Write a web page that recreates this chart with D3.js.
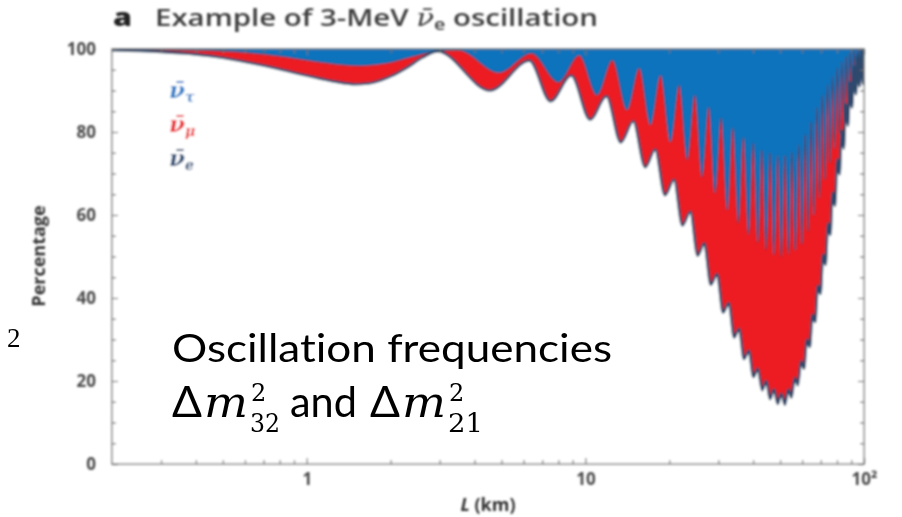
<!DOCTYPE html>
<html><head><meta charset="utf-8">
<script src="https://cdn.jsdelivr.net/npm/d3@7"></script>
<style>
  body { margin: 0; background: #fff; }
  svg { display: block; }
  text { font-variant-ligatures: none; }
</style>
</head><body>
<svg id="chart" width="902" height="517"></svg>
<script>
// ν̄e survival share (%), the lower edge of the stack, at distance L (km)
const eDistance = [0.2,0.3,0.4,0.5,0.7,1.0,1.25,1.5,1.75,2.0,2.3,2.6,2.95,4.55,6.3,7.5,8.9,10.4,11.9,13.4,14.85,16.4,17.8,19.3,20.8,22.3,23.8,25.3,26.7,28.2,29.7,31.2,32.7,34.2,35.6,37.1,38.6,40.1,41.6,43.1,44.6,46.0,47.5,49.0,50.5,52.0,53.5,54.9,56.4,57.9,59.4,60.9,62.4,63.9,65.3,66.8,68.3,69.8,71.3,72.8,74.3,75.7,77.2,78.7,80.2,81.7,83.2,84.6,86.1,87.6,89.1,90.6,92.1,93.6,95.0,96.5,98.0,99.5,100];
const eShare = [99.7,99.3,98.7,97.9,96.0,93.6,92.2,91.5,92.0,93.4,95.6,97.9,99.4,90.0,97.2,87.4,93.6,83.0,88.6,77.5,82.6,71.5,75.8,64.8,68.5,57.5,60.8,50.2,53.2,43.2,45.8,36.5,38.8,30.5,32.6,25.3,27.3,21.0,23.0,17.8,20.0,15.6,18.0,14.5,17.0,14.3,18.0,16.0,20.8,19.0,24.8,23.0,30.0,28.2,36.0,34.2,43.0,41.0,50.5,48.0,58.0,55.2,65.5,62.2,73.5,69.8,80.5,76.0,86.7,81.5,92.0,85.9,95.9,89.1,98.6,91.0,99.9,91.5,92.5];

// ν̄e + ν̄μ share (%), the edge between the red and the blue band
const emDistance = [0.2,0.5,0.8,1.1,1.5,1.9,2.4,3.0,3.5,4.9,6.4,8.0,9.5,11.0,12.5,14.1,15.6,17.1,18.6,20.2,21.7,23.2,24.7,26.2,27.7,29.2,30.7,32.3,33.8,35.4,36.9,38.5,40.0,41.6,43.0,44.5,46.0,47.5,49.0,50.5,52.0,53.6,55.1,56.7,58.3,59.9,61.4,63.0,64.5,66.1,67.7,69.3,70.8,72.4,73.9,75.5,77.0,78.6,80.1,81.7,83.2,84.7,86.2,87.6,89.1,90.6,92.1,93.6,95.0,96.5,98.0,99.5,100];
const emShare = [99.95,99.5,98.3,96.9,96.0,96.5,98.2,99.6,99.7,94.3,99.0,92.0,98.5,88.9,97.3,85.3,95.4,81.7,93.7,77.6,91.3,73.3,88.9,69.2,86.0,65.3,83.4,61.2,81.0,58.0,78.8,55.2,77.3,53.3,75.7,51.6,75.0,50.4,74.5,49.9,74.5,50.5,75.2,51.5,77.0,53.0,79.5,56.0,82.5,60.0,86.0,64.0,89.0,68.5,91.5,72.5,93.5,76.0,95.5,79.5,97.0,82.5,98.3,86.0,99.2,89.8,99.7,93.0,99.9,95.2,100,95.8,96.3];

const xMajorTicks = [1, 10, 100];
const xTickLabels = ["1", "10", "10²"];
const xMinorTicks = [0.3,0.4,0.5,0.6,0.7,0.8,0.9,2,3,4,5,6,7,8,9,20,30,40,50,60,70,80,90];
const yMajorTicks = [0, 20, 40, 60, 80, 100];
const yMinorTicks = [5,10,15,25,30,35,45,50,55,65,70,75,85,90,95];
const legendSymbols = ["τ", "μ", "e"];

const COLORS = { tau: "#0b73bd", mu: "#ec1c24", edge: "#2e4a6d", text: "#3c3c3c" };
const legendColors = ["#2c80c8", "#ea2a30", "#2f4f78"];

const svg = d3.select("#chart");
const plot = { left: 112, right: 864, top: 49, bottom: 464 };

const x = d3.scaleLog().domain([0.2, 100]).range([plot.left, plot.right]);
const y = d3.scaleLinear().domain([0, 100]).range([plot.bottom, plot.top]);

const defs = svg.append("defs");
defs.append("clipPath").attr("id", "plotClip")
  .append("rect")
  .attr("x", plot.left).attr("y", plot.top)
  .attr("width", plot.right - plot.left).attr("height", plot.bottom - plot.top);
defs.append("filter").attr("id", "soft").attr("x", "-5%").attr("y", "-5%").attr("width", "110%").attr("height", "110%")
  .append("feGaussianBlur").attr("stdDeviation", 0.95);

const chart = svg.append("g").attr("filter", "url(#soft)");

const eData = d3.zip(eDistance, eShare);
const emData = d3.zip(emDistance, emShare);

const bands = chart.append("g").attr("clip-path", "url(#plotClip)");

// ν̄τ band: everything above the red band
bands.append("path")
  .datum([[0.2, 100], [100, 100]])
  .attr("fill", COLORS.tau)
  .attr("d", d3.area().x(d => x(d[0])).y0(y(0)).y1(d => y(d[1])));

const areaFrom = d3.area()
  .x(d => x(d[0])).y0(y(0)).y1(d => y(d[1]))
  .curve(d3.curveMonotoneX);
const lineFrom = d3.line()
  .x(d => x(d[0])).y(d => y(d[1]))
  .curve(d3.curveMonotoneX);

// ν̄μ band, then the ν̄e region painted white on top
bands.append("path").datum(emData).attr("fill", COLORS.mu).attr("d", areaFrom);
bands.append("path").datum(eData).attr("fill", "#ffffff").attr("d", areaFrom);

bands.append("path").datum(emData)
  .attr("fill", "none").attr("stroke", COLORS.edge).attr("stroke-width", 1.2)
  .attr("stroke-opacity", 0.8).attr("d", lineFrom);
bands.append("path").datum(eData)
  .attr("fill", "none").attr("stroke", COLORS.edge).attr("stroke-width", 2.6)
  .attr("d", lineFrom);

// frame and inward ticks on all four sides
const axisColor = "#6f6f6f";
chart.append("rect")
  .attr("x", plot.left).attr("y", plot.top)
  .attr("width", plot.right - plot.left).attr("height", plot.bottom - plot.top)
  .attr("fill", "none").attr("stroke", axisColor).attr("stroke-width", 1.3);

function tickAxis(axis, values, size, transform) {
  const g = chart.append("g").attr("transform", transform)
    .call(axis.tickValues(values).tickSize(-size).tickFormat(""));
  g.select(".domain").remove();
  g.selectAll(".tick line").attr("stroke", axisColor).attr("stroke-width", 1.2);
}
tickAxis(d3.axisBottom(x), xMajorTicks, 6, `translate(0,${plot.bottom})`);
tickAxis(d3.axisBottom(x), xMinorTicks, 4, `translate(0,${plot.bottom})`);
tickAxis(d3.axisTop(x), xMajorTicks, 6, `translate(0,${plot.top})`);
tickAxis(d3.axisTop(x), xMinorTicks, 4, `translate(0,${plot.top})`);
tickAxis(d3.axisLeft(y), yMajorTicks, 6, `translate(${plot.left},0)`);
tickAxis(d3.axisLeft(y), yMinorTicks, 4, `translate(${plot.left},0)`);
tickAxis(d3.axisRight(y), yMajorTicks, 6, `translate(${plot.right},0)`);
tickAxis(d3.axisRight(y), yMinorTicks, 4, `translate(${plot.right},0)`);

// tick labels
const labelFont = "'Open Sans', sans-serif";
const yLabels = chart.append("g").attr("transform", `translate(${plot.left},0)`)
  .call(d3.axisLeft(y).tickValues(yMajorTicks).tickSize(0).tickPadding(16));
yLabels.select(".domain").remove();
yLabels.selectAll("text")
  .attr("font-family", labelFont).attr("font-weight", 700).attr("font-size", 17)
  .attr("fill", "#4a4a4a");

const xLabels = chart.append("g").attr("transform", `translate(0,${plot.bottom})`)
  .call(d3.axisBottom(x).tickValues(xMajorTicks).tickSize(0).tickPadding(9)
    .tickFormat((d, i) => xTickLabels[i]));
xLabels.select(".domain").remove();
xLabels.selectAll("text")
  .attr("font-family", labelFont).attr("font-weight", 700).attr("font-size", 17)
  .attr("fill", "#4a4a4a");

// axis titles
chart.append("text")
  .attr("transform", "translate(45,256) rotate(-90)")
  .attr("text-anchor", "middle")
  .attr("font-family", labelFont).attr("font-weight", 700).attr("font-size", 18)
  .attr("fill", "#333")
  .text("Percentage");

const xTitle = chart.append("text")
  .attr("x", 488).attr("y", 511).attr("text-anchor", "middle")
  .attr("font-family", labelFont).attr("font-weight", 700).attr("font-size", 18)
  .attr("fill", "#333");
xTitle.append("tspan").attr("font-style", "italic").text("L");
xTitle.append("tspan").text(" (km)");

// panel letter and title
chart.append("text")
  .attr("x", 113).attr("y", 26)
  .attr("font-family", labelFont).attr("font-weight", 800).attr("font-size", 24)
  .attr("textLength", 19).attr("lengthAdjust", "spacingAndGlyphs")
  .attr("fill", "#222").text("a");
const title = chart.append("text")
  .attr("x", 155).attr("y", 26)
  .attr("font-family", labelFont).attr("font-weight", 600).attr("font-size", 24)
  .attr("textLength", 443).attr("lengthAdjust", "spacingAndGlyphs")
  .attr("fill", COLORS.text);
title.append("tspan").text("Example of 3-MeV ");
title.append("tspan").attr("font-family", "'DejaVu Serif', serif").attr("font-style", "italic")
  .attr("font-weight", 400).text("ν\u0304");
title.append("tspan").attr("font-size", 16).attr("dy", 4).text("e");
title.append("tspan").attr("dy", -4).text(" oscillation");

// legend
const legend = chart.append("g");
legendSymbols.forEach((s, i) => {
  const t = legend.append("text")
    .attr("x", 169).attr("y", 98 + i * 34)
    .attr("font-family", "'DejaVu Serif', serif").attr("font-style", "italic")
    .attr("font-weight", 700).attr("fill", legendColors[i]);
  t.append("tspan").attr("font-size", 23).text("ν\u0304");
  t.append("tspan").attr("font-size", 14).attr("dy", 4).text(s);
});

// annotation
const noteFont = "Lato, 'Open Sans', sans-serif";
const mathFont = "'DejaVu Serif', serif";
const note = svg.append("g");
note.append("text")
  .attr("x", 172).attr("y", 362)
  .attr("font-family", noteFont).attr("font-size", 38).attr("fill", "#000")
  .attr("textLength", 440).attr("lengthAdjust", "spacingAndGlyphs")
  .text("Oscillation frequencies");

const line2 = 417;
function mathTerm(x0, sub, subWidth) {
  note.append("text").attr("x", x0).attr("y", line2)
    .attr("font-family", noteFont).attr("font-size", 42).attr("fill", "#000")
    .attr("textLength", 30).attr("lengthAdjust", "spacingAndGlyphs").text("Δ");
  note.append("text").attr("x", x0 + 32).attr("y", line2)
    .attr("font-family", mathFont).attr("font-style", "italic")
    .attr("font-size", 43).attr("fill", "#000")
    .attr("textLength", 44).attr("lengthAdjust", "spacingAndGlyphs").text("m");
  note.append("text").attr("x", x0 + 79).attr("y", line2 - 16)
    .attr("font-family", mathFont).attr("font-size", 24).attr("fill", "#000").text("2");
  note.append("text").attr("x", x0 + 78).attr("y", line2 + 15)
    .attr("font-family", mathFont).attr("font-size", 26).attr("fill", "#000")
    .attr("textLength", subWidth).attr("lengthAdjust", "spacingAndGlyphs").text(sub);
}
mathTerm(172, "32", 30);
note.append("text").attr("x", 290).attr("y", line2)
  .attr("font-family", noteFont).attr("font-size", 42).attr("fill", "#000")
  .attr("textLength", 67).attr("lengthAdjust", "spacingAndGlyphs").text("and");
mathTerm(370, "21", 35);

svg.append("text").attr("x", 7).attr("y", 347)
  .attr("font-family", "'Liberation Serif', serif").attr("font-size", 27).attr("fill", "#000")
  .text("2");
</script>
</body></html>
